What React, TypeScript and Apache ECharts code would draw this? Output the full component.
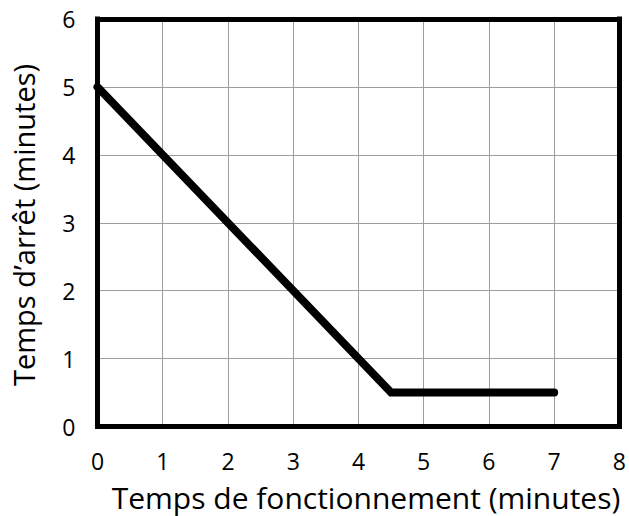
import React, { useEffect, useRef } from "react";
import * as echarts from "echarts";

const xValues = [0, 4.5, 7];
const yValues = [5, 0.5, 0.5];
const xAxisTitle = "Temps de fonctionnement (minutes)";
const yAxisTitle = "Temps d\u2019arrêt (minutes)";

export default function App() {
  const ref = useRef<HTMLDivElement>(null);
  useEffect(() => {
    if (!ref.current) return;
    const chart = echarts.init(ref.current, null, { renderer: "svg" });
    const font = "'Open Sans', 'Noto Sans', sans-serif";
    const border = { show: true, lineStyle: { color: "#000", width: 5, cap: "square" } };
    const split = { show: true, lineStyle: { color: "#a09c98", width: 1 } };
    const label = { fontFamily: font, fontSize: 23, color: "#000", margin: 22 };
    chart.setOption({
      animation: false,
      grid: {
        left: 97.5,
        right: 6,
        top: 19,
        bottom: 89.5,
      },
      xAxis: [
        {
          type: "value",
          position: "bottom",
          min: 0,
          max: 8,
          interval: 1,
          axisLine: { ...border, onZero: false },
          axisTick: { show: false },
          axisLabel: { ...label, margin: 23 },
          splitLine: split,
        },
        {
          type: "value",
          position: "top",
          min: 0,
          max: 8,
          interval: 1,
          axisLine: { ...border, onZero: false },
          axisTick: { show: false },
          axisLabel: { show: false },
          splitLine: { show: false },
        },
      ],
      yAxis: [
        {
          type: "value",
          position: "left",
          min: 0,
          max: 6,
          interval: 1,
          axisLine: { ...border, onZero: false },
          axisTick: { show: false },
          axisLabel: label,
          splitLine: split,
        },
        {
          type: "value",
          position: "right",
          min: 0,
          max: 6,
          interval: 1,
          axisLine: { ...border, onZero: false },
          axisTick: { show: false },
          axisLabel: { show: false },
          splitLine: { show: false },
        },
      ],
      graphic: [
        {
          type: "text",
          x: 366,
          y: 497,
          style: {
            text: xAxisTitle,
            fontFamily: font,
            fontSize: 30,
            fill: "#000",
            align: "center",
            verticalAlign: "middle",
          },
        },
        {
          type: "text",
          x: 23,
          y: 225,
          rotation: Math.PI / 2,
          style: {
            text: yAxisTitle,
            fontFamily: font,
            fontSize: 29,
            fill: "#000",
            align: "center",
            verticalAlign: "middle",
          },
        },
      ],
      series: [
        {
          type: "line",
          data: xValues.map((x, i) => [x, yValues[i]]),
          showSymbol: false,
          symbol: "none",
          lineStyle: { color: "#000", width: 8, cap: "round", join: "miter" },
          z: 5,
        },
      ],
    });
    return () => chart.dispose();
  }, []);
  return <div ref={ref} style={{ width: 629, height: 516, position: "absolute", left: 0, top: 0 }} />;
}
